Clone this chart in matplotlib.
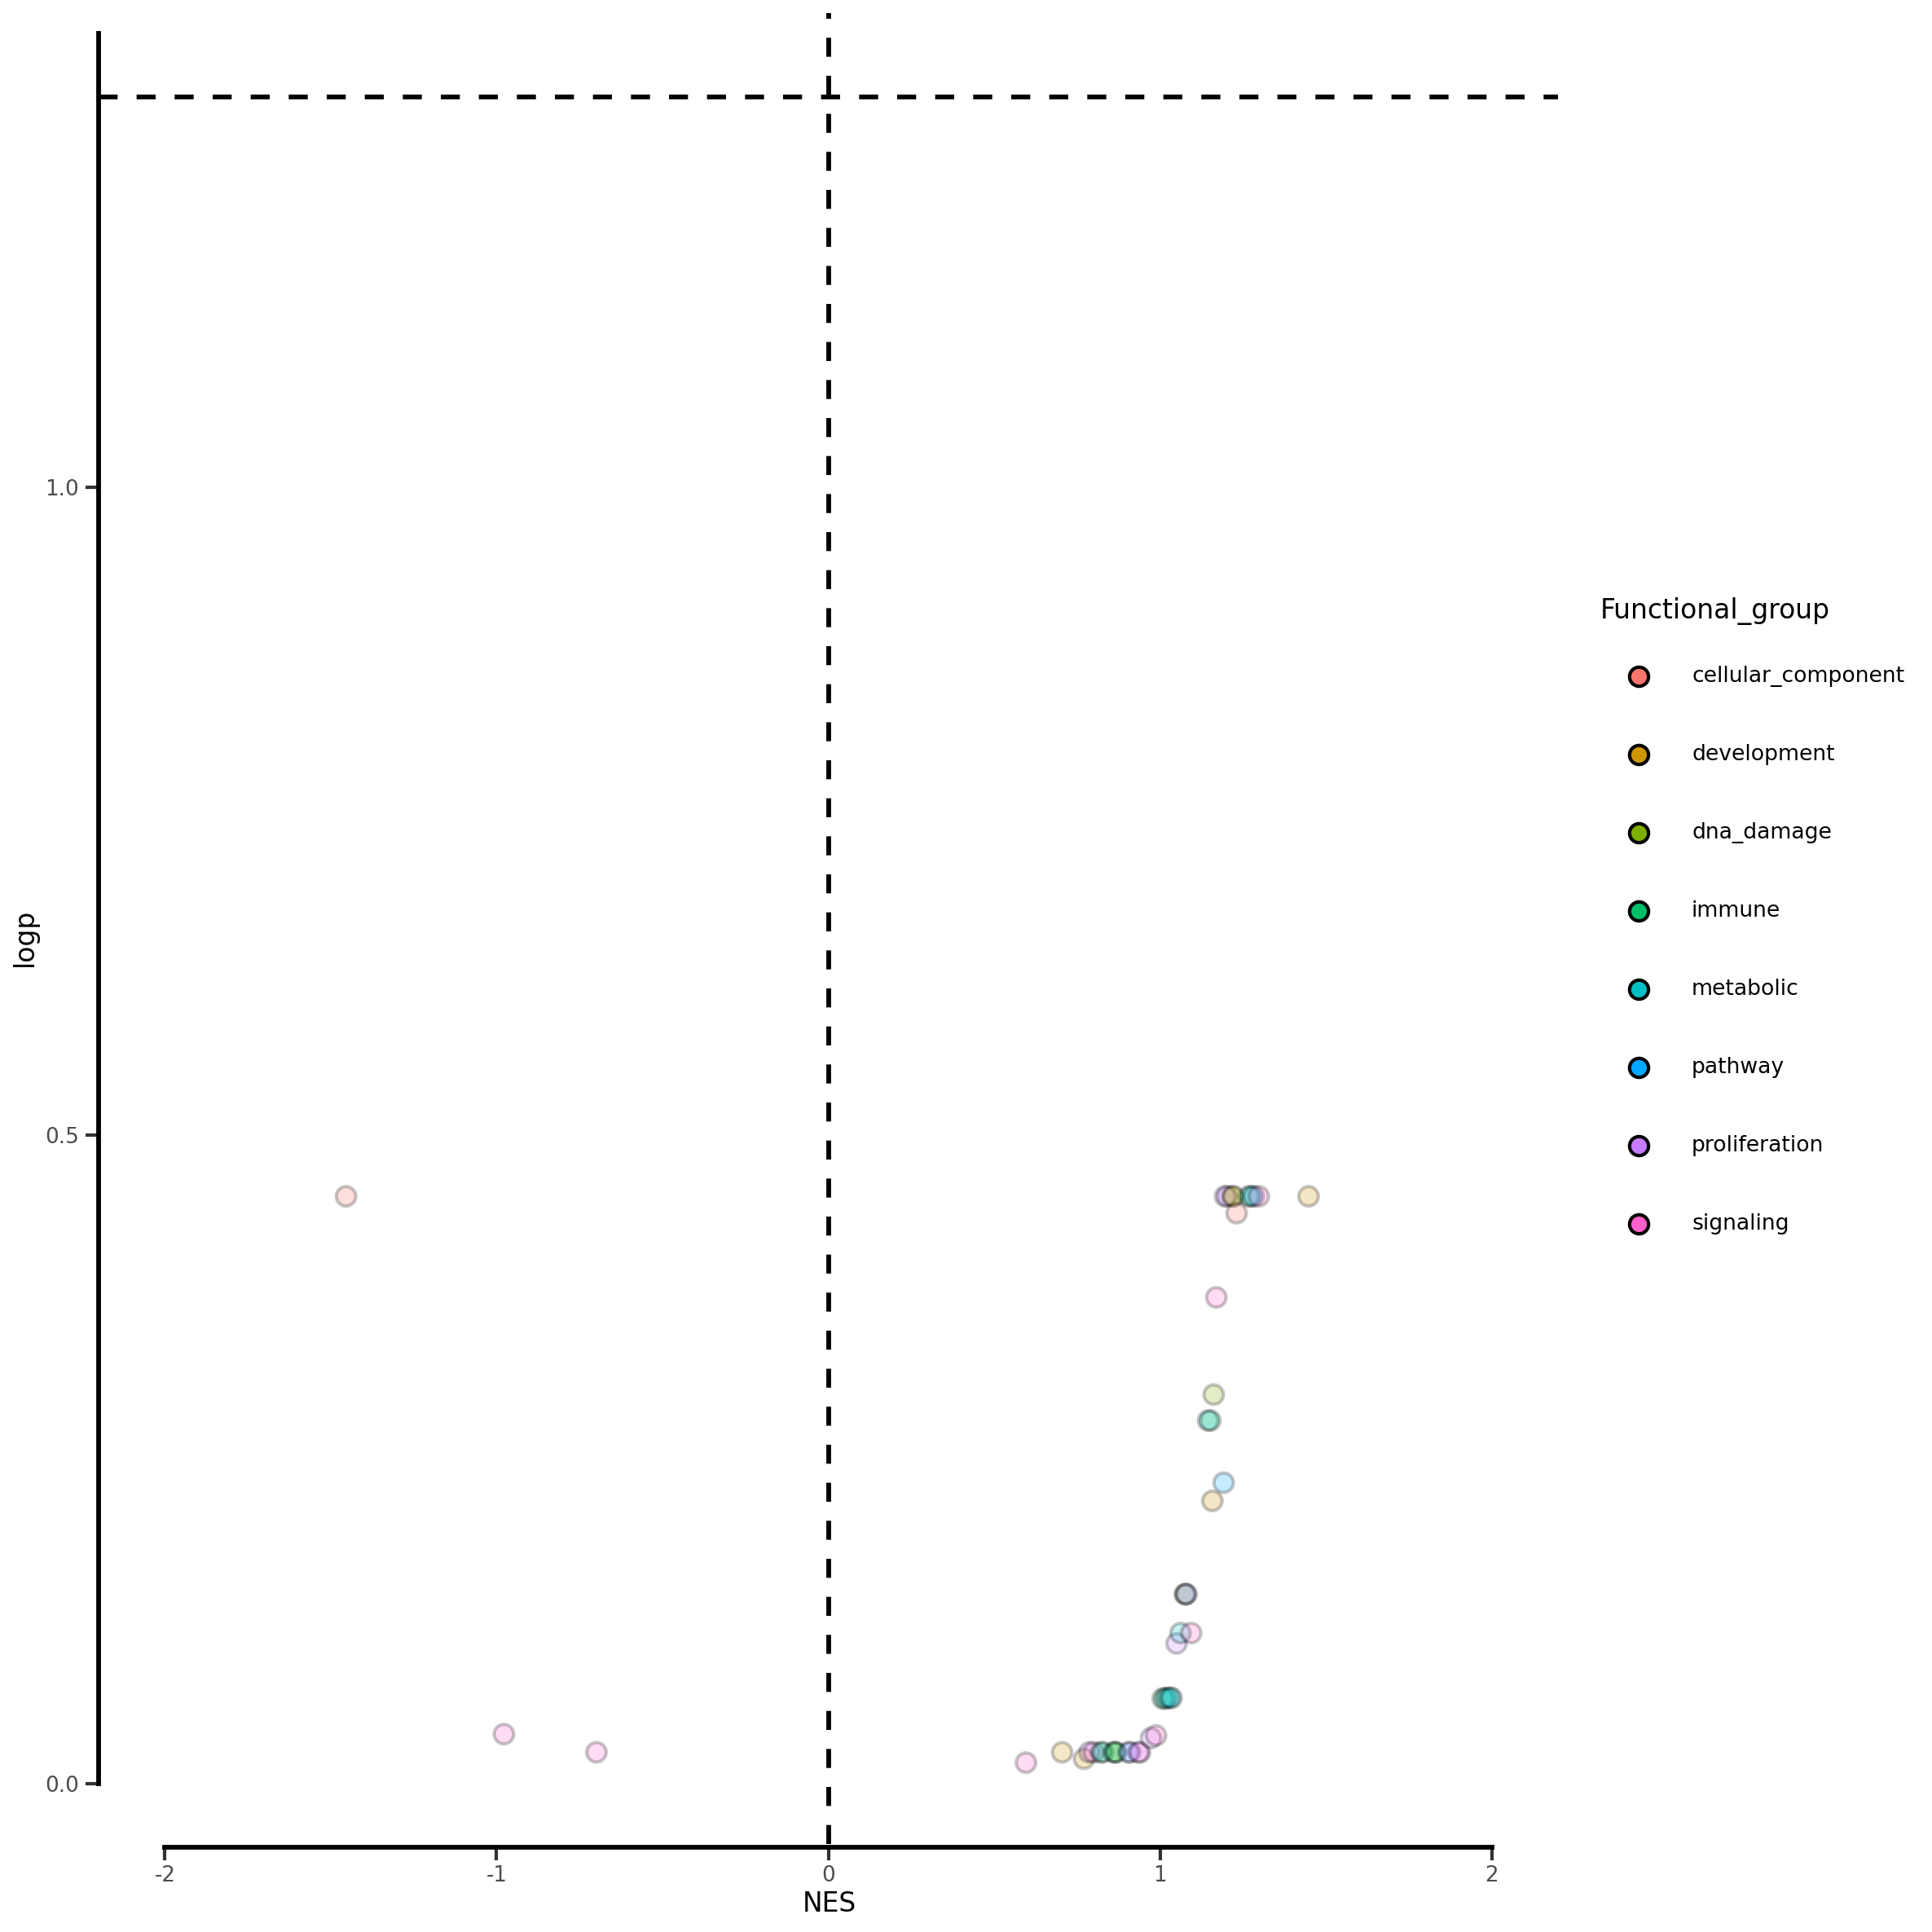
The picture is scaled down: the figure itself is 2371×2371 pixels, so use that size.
import matplotlib
matplotlib.use("Agg")
import matplotlib.pyplot as plt
from matplotlib.lines import Line2D

plt.rcParams['font.family'] = ['DejaVu Sans']

# ---- data ----
groups = ["cellular_component", "development", "dna_damage", "immune",
          "metabolic", "pathway", "proliferation", "signaling"]
group_colors = ["#F8766D", "#CD9600", "#7CAE00", "#00BE67",
                "#00BFC4", "#00A9FF", "#C77CFF", "#FF61CC"]

point_group = [
    "cellular_component", "signaling", "signaling", "signaling",
    "development", "development", "proliferation", "signaling",
    "immune", "metabolic", "immune", "dna_damage", "immune",
    "pathway", "proliferation", "signaling", "proliferation",
    "proliferation", "signaling",
    "immune", "metabolic", "metabolic", "metabolic", "metabolic",
    "proliferation", "metabolic", "signaling",
    "development", "metabolic", "proliferation",
    "development", "pathway", "metabolic", "immune", "dna_damage", "signaling",
    "proliferation", "proliferation", "dna_damage", "development",
    "immune", "metabolic", "pathway", "signaling",
    "cellular_component", "development",
]
nes = [
    -1.454, -0.978, -0.699, 0.596,
    0.705, 0.771, 0.787, 0.800,
    0.822, 0.828, 0.860, 0.865, 0.868,
    0.905, 0.910, 0.940, 0.935,
    0.973, 0.988,
    1.008, 1.015, 1.022, 1.030, 1.035,
    1.050, 1.062, 1.094,
    1.075, 1.077, 1.080,
    1.158, 1.192, 1.145, 1.152, 1.162, 1.170,
    1.196, 1.203, 1.218, 1.222,
    1.268, 1.275, 1.283, 1.298,
    1.231, 1.448,
]
logp = [
    0.453, 0.038, 0.024, 0.016,
    0.024, 0.019, 0.024, 0.024,
    0.024, 0.024, 0.024, 0.024, 0.024,
    0.024, 0.024, 0.024, 0.024,
    0.035, 0.037,
    0.0655, 0.0655, 0.066, 0.066, 0.066,
    0.108, 0.116, 0.116,
    0.146, 0.146, 0.146,
    0.218, 0.232, 0.280, 0.280, 0.300, 0.375,
    0.453, 0.453, 0.453, 0.453,
    0.453, 0.453, 0.453, 0.453,
    0.440, 0.453,
]
sig_line = 1.301
x_ticks = [-2, -1, 0, 1, 2]
x_ticklabels = ["-2", "-1", "0", "1", "2"]
y_ticks = [0.0, 0.5, 1.0]
y_ticklabels = ["0.0", "0.5", "1.0"]

# ---- figure ----
W = 2371
fig = plt.figure(figsize=(W / 300, W / 300), dpi=300)
ax = fig.add_axes([121 / W, 79 / W, (1912 - 121) / W, (2292 - 16) / W])
ax.set_xlim(-2.2, 2.2)
ax.set_ylim(-0.065, 1.366)

cmap = dict(zip(groups, group_colors))
ax.scatter(nes, logp, c=[cmap[g] for g in point_group], s=33,
           edgecolors="black", linewidths=1.0, alpha=0.22, zorder=3)

ax.axhline(sig_line, color="black", lw=1.4, dashes=(4, 4), zorder=2)
ax.plot([0, 0], [-0.047, 1.366], color="black", lw=1.4, dashes=(4, 4),
        zorder=2, clip_on=False)

for s in ["top", "right"]:
    ax.spines[s].set_visible(False)
ax.spines["left"].set_linewidth(1.4)
ax.spines["left"].set_bounds(0, 1.35)
ax.spines["bottom"].set_linewidth(1.4)
ax.spines["bottom"].set_bounds(-2, 2)
ax.spines["bottom"].set_position(("data", -0.049))

ax.set_xticks(x_ticks)
ax.set_xticklabels(x_ticklabels)
ax.set_yticks(y_ticks)
ax.set_yticklabels(y_ticklabels)
ax.tick_params(axis="both", length=3.8, width=1.0, color="#333333",
               labelcolor="#4D4D4D", labelsize=6.3)
ax.tick_params(axis="y", pad=2)
ax.tick_params(axis="x", pad=1.6)

fig.text(1017.6 / W, 1 - 2336 / W, "NES", ha="center", va="center", fontsize=7.9)
fig.text(30 / W, 1 - 1150 / W, "logp", ha="center", va="center",
         rotation=90, fontsize=7.9)

# ---- legend ----
fig.text(1964 / W, 1 - 750 / W, "Functional_group", ha="left", va="center",
         fontsize=7.9)
for i, (g, col) in enumerate(zip(groups, group_colors)):
    yc = 1 - (830 + 96 * i) / W
    fig.add_artist(Line2D([2011 / W], [yc], marker="o", markersize=5.6,
                          markerfacecolor=col, markeredgecolor="black",
                          markeredgewidth=1.0, linestyle="none",
                          transform=fig.transFigure))
    fig.text(2076 / W, yc, g, ha="left", va="center", fontsize=6.4)

fig.savefig("out.png", dpi=300)
